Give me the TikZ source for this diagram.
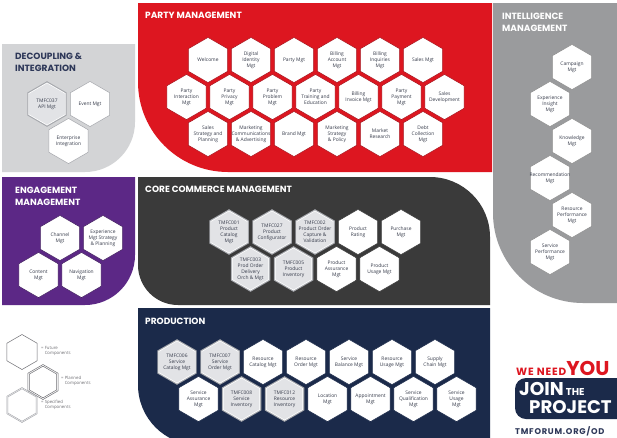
\documentclass[tikz,border=0pt]{standalone}
\usepackage{fontspec}
\setmainfont{Open Sans}
\newfontfamily\headfont{Poppins}
\definecolor{pmred}{RGB}{221,22,32}
\definecolor{pmredd}{RGB}{165,12,22}
\definecolor{decgray}{RGB}{211,212,214}
\definecolor{engpurple}{RGB}{92,40,134}
\definecolor{coredark}{RGB}{58,58,58}
\definecolor{prodnavy}{RGB}{27,42,74}
\definecolor{intgray}{RGB}{154,155,157}
\definecolor{hextext}{RGB}{55,60,75}
\definecolor{specfill}{RGB}{226,227,230}
\definecolor{specline}{RGB}{165,167,172}
\definecolor{headnavy}{RGB}{45,55,88}
\definecolor{legline}{RGB}{110,110,115}
\tikzset{
  hexlabel/.style={align=center, inner sep=0pt, text=hextext, font=\fontsize{4.9}{6}\selectfont},
  head/.style={anchor=north west, inner sep=0pt, align=left, text=white, font=\headfont\bfseries\fontsize{9}{12}\selectfont},
  legtext/.style={anchor=west, inner sep=0pt, align=left, text=legline, font=\fontsize{4.3}{5.4}\selectfont},
}
\newcommand\hexshape[4]{\path[#1] (#2,#3) +(90:#4) -- +(150:#4) -- +(210:#4) -- +(270:#4) -- +(330:#4) -- +(30:#4) -- cycle;}
% white hexagon: name, x, y, border colour, text
\newcommand\hexw[5]{\hexshape{fill=white,draw=#4,line width=0.5pt}{#2}{#3}{22.6}\node[hexlabel] (#1) at (#2,#3) {#5};}
% specified hexagon: name, x, y, text
\newcommand\hexs[4]{\hexshape{fill=specline}{#2}{#3}{22.8}\hexshape{fill=white}{#2}{#3}{21.5}\hexshape{fill=specfill}{#2}{#3}{20.6}\node[hexlabel] (#1) at (#2,#3) {#4};}
\begin{document}
\begin{tikzpicture}[x=1pt,y=-1pt]
\useasboundingbox (0,0) rectangle (617,437);
\clip (0,0) rectangle (617,437);
\fill[white] (0,0) rectangle (617,437);
% panels
\fill[pmred] (138,3) -- (492,3) -- (492,172) -- (228,172) arc[start angle=90, end angle=180, radius=90] -- cycle;
\fill[intgray] (493,3) -- (620,3) -- (620,303) -- (583,303) arc[start angle=90, end angle=180, radius=90] -- cycle;
\fill[decgray] (2,44) -- (135,44) -- (135,122) arc[start angle=0, end angle=90, radius=50] -- (2,172) -- cycle;
\fill[engpurple] (2,177) -- (135,177) -- (135,255) arc[start angle=0, end angle=90, radius=50] -- (2,305) -- cycle;
\fill[coredark] (138,177) -- (430,177) arc[start angle=270, end angle=360, radius=60] -- (490,305) -- (178,305) arc[start angle=90, end angle=180, radius=40] -- cycle;
\fill[prodnavy] (138,308) -- (490,308) -- (490,445) -- (198,445) arc[start angle=90, end angle=180, radius=60] -- cycle;
% headings
\node[head] (hparty) at (145,12) {PARTY MANAGEMENT};
\node[head, text=headnavy] (hdec) at (15,53) {DECOUPLING \&\\INTEGRATION};
\node[head] (hint) at (502,12.5) {INTELLIGENCE\\MANAGEMENT};
\node[head] (heng) at (15,186.5) {ENGAGEMENT\\MANAGEMENT};
\node[head] (hcore) at (145,186) {CORE COMMERCE MANAGEMENT};
\node[head] (hprod) at (145,317.5) {PRODUCTION};
% party management
\hexw{pa1}{208}{60}{pmredd}{Welcome}
\hexw{pa2}{251}{60}{pmredd}{Digital\\Identity\\Mgt}
\hexw{pa3}{294}{60}{pmredd}{Party Mgt}
\hexw{pa4}{337}{60}{pmredd}{Billing\\Account\\Mgt}
\hexw{pa5}{380}{60}{pmredd}{Billing\\Inquiries\\Mgt}
\hexw{pa6}{423}{60}{pmredd}{Sales Mgt}
\hexw{pb1}{186.5}{97}{pmredd}{Party\\Interaction\\Mgt}
\hexw{pb2}{229.5}{97}{pmredd}{Party\\Privacy\\Mgt}
\hexw{pb3}{272.5}{97}{pmredd}{Party\\Problem\\Mgt}
\hexw{pb4}{315.5}{97}{pmredd}{Party\\Training and\\Education}
\hexw{pb5}{358.5}{97}{pmredd}{Billing\\Invoice Mgt}
\hexw{pb6}{401.5}{97}{pmredd}{Party\\Payment\\Mgt}
\hexw{pb7}{444.5}{97}{pmredd}{Sales\\Development}
\hexw{pc1}{208}{134}{pmredd}{Sales\\Strategy and\\Planning}
\hexw{pc2}{251}{134}{pmredd}{Marketing\\Communications\\\& Advertising}
\hexw{pc3}{294}{134}{pmredd}{Brand Mgt}
\hexw{pc4}{337}{134}{pmredd}{Marketing\\Strategy\\\& Policy}
\hexw{pc5}{380}{134}{pmredd}{Market\\Research}
\hexw{pc6}{423}{134}{pmredd}{Debt\\Collection\\Mgt}
% decoupling
\hexs{d1}{47}{104}{TMFC037\\API Mgt}
\hexw{d2}{90}{104}{specline}{Event Mgt}
\hexw{d3}{68.5}{141}{specline}{Enterprise\\Integration}
% intelligence
\hexw{i1}{572}{67}{black!45}{Campaign\\Mgt}
\hexw{i2}{550}{104}{black!45}{Experience\\Insight\\Mgt}
\hexw{i3}{572}{141}{black!45}{Knowledge\\Mgt}
\hexw{i4}{550}{178}{black!45}{Recommendation\\Mgt}
\hexw{i5}{572}{215}{black!45}{Resource\\Performance\\Mgt}
\hexw{i6}{550}{252}{black!45}{Service\\Performance\\Mgt}
% engagement
\hexw{e1}{60}{238}{engpurple!70!black}{Channel\\Mgt}
\hexw{e2}{103}{238}{engpurple!70!black}{Experience\\Mgt Strategy\\\& Planning}
\hexw{e3}{38.5}{275}{engpurple!70!black}{Content\\Mgt}
\hexw{e4}{81.5}{275}{engpurple!70!black}{Navigation\\Mgt}
% core commerce
\hexs{c1}{229}{232}{TMFC001\\Product\\Catalog\\Mgt}
\hexs{c2}{272}{232}{TMFC027\\Product\\Configurator}
\hexs{c3}{315}{232}{TMFC002\\Product Order\\Capture \&\\Validation}
\hexw{c4}{358}{232}{coredark}{Product\\Rating}
\hexw{c5}{401}{232}{coredark}{Purchase\\Mgt}
\hexs{c6}{250.5}{269}{TMFC003\\Prod Order\\Delivery\\Orch \& Mgt}
\hexs{c7}{293.5}{269}{TMFC005\\Product\\Inventory}
\hexw{c8}{336.5}{269}{coredark}{Product\\Assurance\\Mgt}
\hexw{c9}{379.5}{269}{coredark}{Product\\Usage Mgt}
% production
\hexs{r1}{177}{362}{TMFC006\\Service\\Catalog Mgt}
\hexs{r2}{220}{362}{TMFC007\\Service\\Order Mgt}
\hexw{r3}{263}{362}{prodnavy}{Resource\\Catalog Mgt}
\hexw{r4}{306}{362}{prodnavy}{Resource\\Order Mgt}
\hexw{r5}{349}{362}{prodnavy}{Service\\Balance Mgt}
\hexw{r6}{392}{362}{prodnavy}{Resource\\Usage Mgt}
\hexw{r7}{435}{362}{prodnavy}{Supply\\Chain Mgt}
\hexw{s1}{198.5}{399}{prodnavy}{Service\\Assurance\\Mgt}
\hexs{s2}{241.5}{399}{TMFC008\\Service\\Inventory}
\hexs{s3}{284.5}{399}{TMFC012\\Resource\\Inventory}
\hexw{s4}{327.5}{399}{prodnavy}{Location\\Mgt}
\hexw{s5}{370.5}{399}{prodnavy}{Appointment\\Mgt}
\hexw{s6}{413.5}{399}{prodnavy}{Service\\Qualification\\Mgt}
\hexw{s7}{456.5}{399}{prodnavy}{Service\\Usage\\Mgt}
% legend
\hexshape{draw=legline,line width=0.5pt}{22}{352}{17.5}
\hexshape{draw=legline,line width=0.5pt}{43}{382}{17.5}
\hexshape{draw=legline,line width=0.5pt}{43}{382}{15.8}
\hexshape{draw=specline,line width=0.5pt}{22}{405}{17.5}
\hexshape{draw=specline,line width=0.5pt}{22}{405}{16.2}
\node[legtext] (lfut) at (41,351) {= Future\\\phantom{=\ }Components};
\node[legtext] (lpla) at (61,381) {= Planned\\\phantom{=\ }Components};
\node[legtext] (lspe) at (41,405) {= Specified\\\phantom{=\ }Components};
% join the project
\node[anchor=base west, inner sep=0pt, text=pmred, font=\headfont\bfseries] (weneed) at (516,375)
  {{\fontsize{10.5}{12}\selectfont\addfontfeatures{LetterSpace=8}WE NEED}{\fontsize{20}{22}\selectfont YOU}};
\fill[prodnavy, rounded corners=11] (515,378) rectangle (650,419);
\node[anchor=base west, inner sep=0pt, text=white, font=\headfont\bfseries] (join) at (519,395.5)
  {{\fontsize{18.5}{20}\selectfont JOIN}{\fontsize{10}{10}\selectfont\ THE}};
\node[anchor=base west, inner sep=0pt, text=white, font=\headfont\bfseries\fontsize{18.2}{20}\selectfont] (proj) at (529,413.5) {PROJECT};
\node[anchor=base west, inner sep=0pt, text=headnavy, font=\headfont\bfseries\fontsize{8.3}{10}\selectfont\addfontfeatures{LetterSpace=9}] (url) at (515,434.3) {TMFORUM.ORG/OD};
\end{tikzpicture}
\end{document}
